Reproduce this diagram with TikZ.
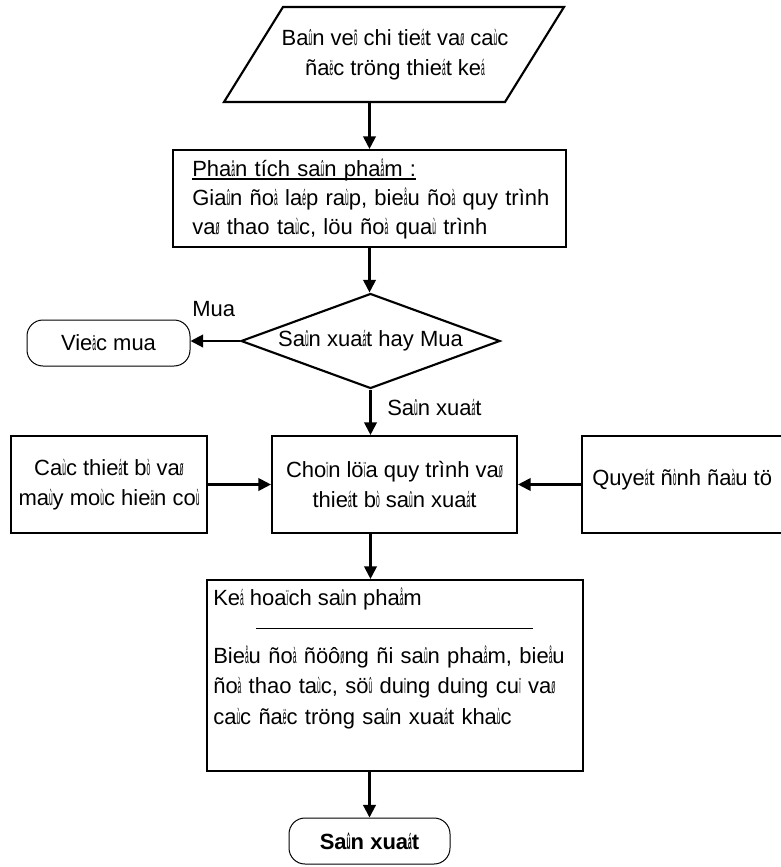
\documentclass[tikz,border=0pt]{standalone}
\usepackage{fontspec}
\setmainfont{Liberation Sans}
\usepackage{graphicx}
\usetikzlibrary{arrows.meta,shapes.geometric}
% narrow VNI tone/accent glyphs
\newcommand\vk[1]{\scalebox{0.3}[1]{#1}}
% underline that cuts through the descenders
\newcommand\uln[1]{\setbox0\hbox{#1}\rlap{\rule[-2.8pt]{\wd0}{1.1pt}}\box0}
\tikzset{
  box/.style={draw, rectangle, line width=1.6pt, inner sep=0pt},
  pill/.style={draw, rectangle, line width=0.75pt, rounded corners=12pt, inner sep=0pt},
  decision/.style={draw, diamond, line width=1.6pt, inner sep=0pt, aspect=2.73},
  txt/.style={inner sep=0pt},
  flow/.style={line width=1.6pt, -{Triangle[length=9.5pt,width=9.5pt]}},
}
\begin{document}
\begin{tikzpicture}[x=0.75pt, y=-0.75pt, font=\fontsize{16.5}{22.5}\selectfont]
\useasboundingbox (0,0) rectangle (781,867);

% input: drawings and design features
\draw[line width=1.6pt] (283,7) -- (564,7) -- (505,102) -- (224,102) -- cycle;
\node[txt, minimum height=71.25pt, align=center] (design) at (395,54.5)
  {Ba\vk{û}n ve\vk{õ} chi tie\vk{á}t va\vk{ø} ca\vk{ù}c\\ña\vk{ë}c tröng thie\vk{á}t ke\vk{á}};

% product analysis
\node[box, minimum width=294.75pt, minimum height=72.75pt] (analysis) at (369.5,198.5) {};
\node[txt, anchor=base west, text width=280pt, align=left,
      font=\fontsize{16.5}{22.1}\selectfont] (analysistext) at (192,176)
  {\uln{Pha\vk{â}n tích sa\vk{û}n pha\vk{å}m :}\\
   Gia\vk{û}n ño\vk{à} la\vk{é}p ra\vk{ù}p, bie\vk{å}u ño\vk{à} quy trình\\
   va\vk{ø} thao ta\vk{ù}c, löu ño\vk{à} qua\vk{ù} trình};

% make or buy
\node[decision, minimum width=194.25pt, minimum height=71.25pt] (decide) at (370.5,341)
  {Sa\vk{û}n xua\vk{á}t hay Mua};
\node[pill, minimum width=122.25pt, minimum height=34.5pt] (buy) at (108.5,343)
  {Vie\vk{ä}c mua};
\node[txt, anchor=base west] (buylabel) at (192,316) {Mua};
\node[txt, anchor=base west] (makelabel) at (387,415) {Sa\vk{û}n xua\vk{á}t};

% process selection row
\node[box, minimum width=147pt, minimum height=72.75pt, align=center] (equip) at (109,484.5)
  {Ca\vk{ù}c thie\vk{á}t b\vk{ò} va\vk{ø}\\ma\vk{ù}y mo\vk{ù}c hie\vk{ä}n co\vk{ù}};
\node[box, minimum width=183.75pt, minimum height=72.75pt, align=center] (select) at (394.5,484.5)
  {Cho\vk{ï}n lö\vk{ï}a quy trình va\vk{ø}\\thie\vk{á}t b\vk{ò} sa\vk{û}n xua\vk{á}t};
\node[box, minimum width=159pt, minimum height=72.75pt] (invest) at (688,484.5) {};
\node[txt, anchor=base west] (investtext) at (592,485)
  {Quye\vk{á}t ñ\vk{ò}nh ña\vk{à}u tö};

% product plan
\node[box, minimum width=282pt, minimum height=143.25pt] (plan) at (395,675.5) {};
\node[txt, anchor=base west] (plantitle) at (213,605)
  {Ke\vk{á} hoa\vk{ï}ch sa\vk{û}n pha\vk{å}m};
\draw[line width=0.75pt] (256,628) -- (533,628);
\node[txt, anchor=base west, text width=280pt, align=left,
      font=\fontsize{16.5}{23.2}\selectfont] (plantext) at (213,663)
  {Bie\vk{å}u ño\vk{à} ñöô\vk{ø}ng ñi sa\vk{û}n pha\vk{å}m, bie\vk{å}u\\
   ño\vk{à} thao ta\vk{ù}c, sö\vk{û} du\vk{ï}ng du\vk{ï}ng cu\vk{ï} va\vk{ø}\\
   ca\vk{ù}c ña\vk{ë}c tröng sa\vk{û}n xua\vk{á}t kha\vk{ù}c};

% production
\node[pill, minimum width=120.75pt, minimum height=34.5pt, font=\fontsize{16.5}{22.5}\selectfont\bfseries]
  (produce) at (369.5,841) {Sa\vk{û}n xua\vk{á}t};

% connectors
\draw[flow] (design.south -| analysis.north) -- (analysis.north);
\draw[flow] (analysis.south) -- (analysis.south |- decide.north);
\draw[flow] (decide.west) -- (decide.west -| buy.east);
\draw[flow] (decide.south) -- (decide.south |- select.north);
\draw[flow] (equip.east) -- (select.west);
\draw[flow] (invest.west) -- (select.east);
\draw[flow] (select.south -| decide.south) -- (plan.north -| decide.south);
\draw[flow] (plan.south -| produce.north) -- (produce.north);
\end{tikzpicture}
\end{document}
